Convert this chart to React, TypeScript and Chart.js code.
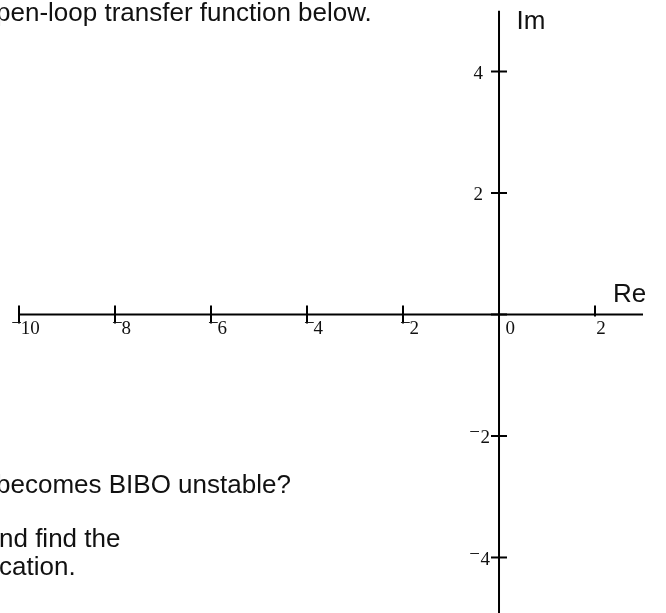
import React, { useEffect, useRef } from "react";
import { Chart, registerables } from "chart.js";

Chart.register(...registerables);

// Axis ticks (values) and their labels
const xTickValues = [-10, -8, -6, -4, -2, 0, 2];
const yTickValues = [-4, -2, 0, 2, 4];
const yLabelValues = [-4, -2, 2, 4];

// Visible range of the complex plane
const xRange = [-10.396, 3.479];
const yRange = [-4.914, 5.177];

// Extent of the drawn axes
const xAxisExtent = [-10.02, 3.0];
const yAxisExtent = [-5.2, 5.0];

const W = 666;
const H = 613;

const sansFont = "'Liberation Sans', Arial, sans-serif";
const serifFont = "'Liberation Serif', 'Times New Roman', serif";

const axesPlugin = {
  id: "complexAxes",
  afterDraw(chart: any) {
    const ctx = chart.ctx as CanvasRenderingContext2D;
    const xs = chart.scales.x;
    const ys = chart.scales.y;
    const x0 = xs.getPixelForValue(0);
    const y0 = ys.getPixelForValue(0);
    ctx.save();
    ctx.strokeStyle = "#000";
    ctx.lineWidth = 2;
    ctx.lineCap = "butt";
    // real axis
    ctx.beginPath();
    ctx.moveTo(xs.getPixelForValue(xAxisExtent[0]), y0);
    ctx.lineTo(xs.getPixelForValue(xAxisExtent[1]), y0);
    ctx.stroke();
    // imaginary axis
    ctx.beginPath();
    ctx.moveTo(x0, ys.getPixelForValue(yAxisExtent[1]));
    ctx.lineTo(x0, ys.getPixelForValue(yAxisExtent[0]));
    ctx.stroke();
    // x ticks
    xTickValues.forEach((v) => {
      if (v === 0) return;
      const px = xs.getPixelForValue(v);
      ctx.beginPath();
      ctx.moveTo(px, y0 - 9);
      ctx.lineTo(px, y0 + (v < 0 ? 9 : 2));
      ctx.stroke();
    });
    // y ticks (both sides)
    yTickValues.forEach((v) => {
      const py = ys.getPixelForValue(v);
      ctx.beginPath();
      ctx.moveTo(x0 - 8, py);
      ctx.lineTo(x0 + 8, py);
      ctx.stroke();
    });

    ctx.fillStyle = "#111";
    ctx.font = `19px ${serifFont}`;
    ctx.textBaseline = "alphabetic";
    ctx.textAlign = "left";
    const minus = "\u2212";
    const mW = ctx.measureText(minus).width;
    // x labels (centred a little right of each tick)
    xTickValues.forEach((v) => {
      const px = xs.getPixelForValue(v);
      const base = y0 + 20;
      const digits = String(Math.abs(v));
      const dW = ctx.measureText(digits).width;
      if (v < 0) {
        const total = mW - 1 + dW;
        const left = px + 6.5 - total / 2;
        ctx.fillText(minus, left, base - 5);
        ctx.fillText(digits, left + mW - 1, base);
      } else if (v === 0) {
        ctx.fillText(digits, px + 6.5, base);
      } else {
        ctx.fillText(digits, px + 6 - dW / 2, base);
      }
    });
    // y labels
    ctx.textAlign = "right";
    yLabelValues.forEach((v) => {
      const py = ys.getPixelForValue(v);
      const base = py + 7.5;
      const digits = String(Math.abs(v));
      if (v < 0) {
        ctx.fillText(digits, x0 - 9, base);
        ctx.fillText(minus, x0 - 19, base - 5);
      } else {
        ctx.fillText(digits, x0 - 16, base);
      }
    });
    ctx.restore();
  },
};

const textStyle = (left: number, baseline: number): React.CSSProperties => ({
  position: "absolute",
  left,
  top: baseline - 22,
  fontFamily: sansFont,
  fontSize: 26,
  lineHeight: "26px",
  whiteSpace: "nowrap",
  color: "#111",
  margin: 0,
});

export default function App() {
  const canvasRef = useRef<HTMLCanvasElement | null>(null);

  useEffect(() => {
    document.body.style.margin = "0";
    const canvas = canvasRef.current;
    if (!canvas) return;
    const chart = new Chart(canvas, {
      type: "scatter",
      data: { datasets: [{ data: [], showLine: false }] },
      options: {
        responsive: false,
        animation: false,
        devicePixelRatio: 1,
        layout: { padding: 0 },
        plugins: { legend: { display: false }, tooltip: { enabled: false }, title: { display: false } },
        scales: {
          x: { type: "linear", display: false, min: xRange[0], max: xRange[1] },
          y: { type: "linear", display: false, min: yRange[0], max: yRange[1] },
        },
      },
      plugins: [axesPlugin],
    });
    return () => chart.destroy();
  }, []);

  return (
    <div style={{ position: "relative", width: W, height: H, overflow: "hidden", background: "#fff" }}>
      <canvas ref={canvasRef} width={W} height={H} style={{ position: "absolute", left: 0, top: 0, width: W, height: H }} />
      <div style={textStyle(-4, 21)}>pen-loop transfer function below.</div>
      <div style={textStyle(-4, 493)}>becomes BIBO unstable?</div>
      <div style={textStyle(-1, 547)}>nd find the</div>
      <div style={textStyle(-1, 575)}>cation.</div>
      <div style={textStyle(516.5, 29)}>Im</div>
      <div style={textStyle(613, 302)}>Re</div>
    </div>
  );
}
